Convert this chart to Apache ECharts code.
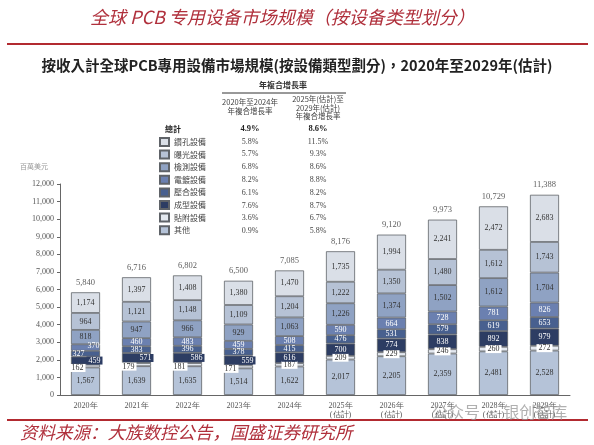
<!DOCTYPE html>
<html><head><meta charset="utf-8">
<script src="https://cdn.jsdelivr.net/npm/echarts@6/dist/echarts.min.js"></script>
<style>html,body{margin:0;padding:0;background:#fff}#c{width:594px;height:445px}</style>
</head><body><div id="c"></div>
<script>
const categories = ['2020年','2021年','2022年','2023年','2024年','2025年\n(估計)','2026年\n(估計)','2027年\n(估計)','2028年\n(估計)','2029年\n(估計)'];
const seriesNames = ['鑽孔設備','曝光設備','檢測設備','電鍍設備','壓合設備','成型設備','貼附設備','其他'];
const drilling   = [1174,1397,1408,1380,1470,1735,1994,2241,2472,2683];
const exposure   = [964,1121,1148,1109,1204,1222,1350,1480,1612,1743];
const inspection = [818,947,966,929,1063,1226,1374,1502,1612,1704];
const plating    = [370,460,483,459,508,590,664,728,781,826];
const lamination = [327,383,396,378,415,476,531,579,619,653];
const forming    = [459,571,586,559,616,700,774,838,892,979];
const attach     = [162,179,181,171,187,209,229,246,260,272];
const other      = [1567,1639,1635,1514,1622,2017,2205,2359,2481,2528];
const totals     = [5840,6716,6802,6500,7085,8176,9120,9973,10729,11388];
const cagr2020_2024 = ['5.8%','5.7%','6.8%','8.2%','6.1%','7.6%','3.6%','0.9%'];
const cagr2025_2029 = ['11.5%','9.3%','8.6%','8.8%','8.2%','8.7%','6.7%','5.8%'];
const cagrTotal = ['4.9%','8.6%'];
const yTicks = {min:0, max:12000, interval:1000};

const colors = {
  '鑽孔設備':'#dadfe7','曝光設備':'#b6c2d5','檢測設備':'#8fa2c3','電鍍設備':'#6b80b0',
  '壓合設備':'#48608f','成型設備':'#2d3d63','貼附設備':'#e3e8ef','其他':'#b5c3d8'
};
const darkText = {'電鍍設備':1,'壓合設備':1,'成型設備':1};
const fmt = v => v.toLocaleString('en-US');
const stackOrder = [['其他',other],['貼附設備',attach],['成型設備',forming],['壓合設備',lamination],['電鍍設備',plating],['檢測設備',inspection],['曝光設備',exposure],['鑽孔設備',drilling]];

function dataFor(name, arr){
  return arr.map((v,i)=>{
    const item = {value:v};
    let off = [0,0];
    if (name==='貼附設備' && i<4) off=[-8,2];
    if (name==='成型設備' && i<4) off=[9,0];
    if (name==='壓合設備' && i===0) off=[-7,0];
    if (name==='電鍍設備' && i===0) off=[8,-2];
    item.label = {offset:off};
    return item;
  });
}

const series = stackOrder.map(([name,arr])=>{
  const s = {
    name, type:'bar', stack:'t', barWidth:'57%',
    data: dataFor(name,arr),
    itemStyle:{color:colors[name], borderColor:'#5f6368', borderWidth:0.8},
    label:{show:true, position:'inside', fontSize:8, fontFamily:'Liberation Serif',
      color: darkText[name]?'#fff':'#333', formatter:p=>fmt(p.value)}
  };
  if (name==='貼附設備') Object.assign(s.label,{backgroundColor:'#fff',padding:[0,2],color:'#333'});
  if (name==='成型設備') Object.assign(s.label,{backgroundColor:'#2d3d63',padding:[0,2]});
  return s;
});
series.push({
  name:'總計', type:'scatter', data:totals, symbolSize:0, silent:true,
  label:{show:true, position:'top', distance:5, fontSize:8.5, fontFamily:'Liberation Serif', color:'#333', formatter:p=>fmt(p.value)}
});

const rowY = [141.5,154.3,167.1,179.9,192.7,205.5,218.3,231.1];
const graphic = [
  {type:'text', left:90, top:8, style:{text:'全球 PCB 专用设备市场规模（按设备类型划分）', font:'italic 18px "Noto Sans CJK SC"', fill:'#b0303c'}},
  {type:'rect', shape:{x:7,y:43,width:581,height:2}, style:{fill:'#b22a30'}},
  {type:'text', left:'center', top:58, style:{text:'按收入計全球PCB專用設備市場規模(按設備類型劃分)，2020年至2029年(估計)', font:'bold 14.5px "Noto Sans CJK TC"', fill:'#222'}},
  {type:'text', x:283, y:85, style:{text:'年複合增長率', font:'bold 8px "Noto Sans CJK TC"', fill:'#333', textAlign:'center', textVerticalAlign:'middle'}},
  {type:'line', shape:{x1:222,y1:93,x2:346,y2:93}, style:{stroke:'#333',lineWidth:1}},
  {type:'text', x:250, y:107, style:{text:'2020年至2024年\n年複合增長率', font:'7.5px "Noto Sans CJK TC"', fill:'#444', textAlign:'center', textVerticalAlign:'middle', lineHeight:9}},
  {type:'text', x:318, y:108, style:{text:'2025年(估計)至\n2029年(估計)\n年複合增長率', font:'7.5px "Noto Sans CJK TC"', fill:'#444', textAlign:'center', textVerticalAlign:'middle', lineHeight:8.5}},
  {type:'text', x:173, y:129, style:{text:'總計', font:'bold 8px "Noto Sans CJK TC"', fill:'#222', textAlign:'center', textVerticalAlign:'middle'}},
  {type:'text', x:250, y:129, style:{text:cagrTotal[0], font:'bold 8.5px "Liberation Serif"', fill:'#222', textAlign:'center', textVerticalAlign:'middle'}},
  {type:'text', x:318, y:129, style:{text:cagrTotal[1], font:'bold 8.5px "Liberation Serif"', fill:'#222', textAlign:'center', textVerticalAlign:'middle'}},
  {type:'text', x:34, y:166, style:{text:'百萬美元', font:'7px "Noto Sans CJK TC"', fill:'#999', textAlign:'center', textVerticalAlign:'middle'}},
  {type:'rect', shape:{x:7,y:419,width:581,height:2}, style:{fill:'#b22a30'}},
  {type:'text', left:20, top:424, style:{text:'资料来源：大族数控公告，国盛证券研究所', font:'italic 17.5px "Noto Sans CJK SC"', fill:'#b0303c'}},
  {type:'text', left:432, top:404, z:100, style:{text:'公众号 · 银创智库', font:'16px "Noto Sans CJK SC"', fill:'rgba(150,150,150,0.75)'}}
];
seriesNames.forEach((n,i)=>{
  graphic.push({type:'text', x:250, y:rowY[i], style:{text:cagr2020_2024[i], font:'8px "Liberation Serif"', fill:'#444', textAlign:'center', textVerticalAlign:'middle'}});
  graphic.push({type:'text', x:318, y:rowY[i], style:{text:cagr2025_2029[i], font:'8px "Liberation Serif"', fill:'#444', textAlign:'center', textVerticalAlign:'middle'}});
});

const chart = echarts.init(document.getElementById('c'));
chart.setOption({
  animation:false,
  grid:{left:60, right:24, top:184, bottom:50},
  legend:{data:seriesNames, orient:'vertical', left:154, top:132, icon:'rect', itemWidth:9, itemHeight:8, itemGap:2.6,
    textStyle:{fontSize:8, color:'#444', fontFamily:'Noto Sans CJK TC', lineHeight:10}, selectedMode:false},
  xAxis:{type:'category', data:categories,
    axisLine:{lineStyle:{color:'#666'}}, axisTick:{show:false},
    axisLabel:{fontSize:8, color:'#555', fontFamily:'Liberation Serif', lineHeight:9, margin:6}},
  yAxis:{type:'value', min:yTicks.min, max:yTicks.max, interval:yTicks.interval,
    splitLine:{show:false}, axisLine:{show:true, lineStyle:{color:'#666'}},
    axisTick:{show:true, length:3, lineStyle:{color:'#666'}},
    axisLabel:{fontSize:8, color:'#555', fontFamily:'Liberation Serif', formatter:v=>fmt(v), margin:6}},
  series, graphic
});
</script></body></html>
